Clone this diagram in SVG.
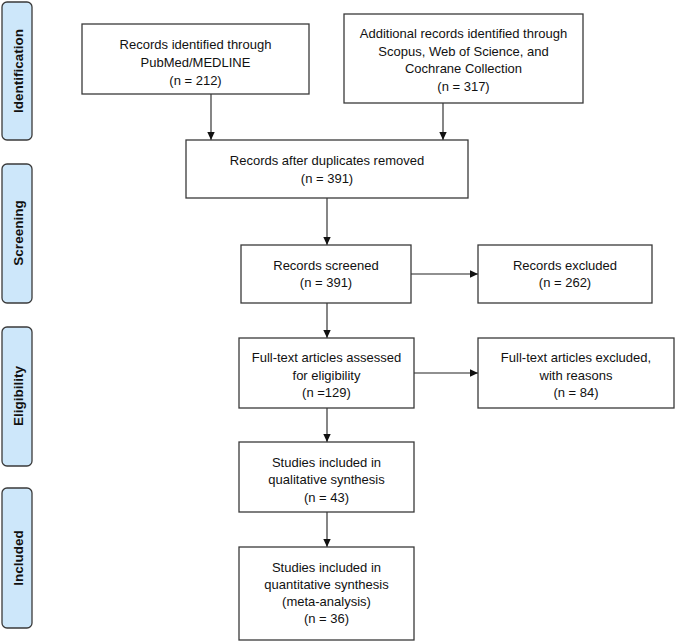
<svg xmlns="http://www.w3.org/2000/svg" width="676" height="643" viewBox="0 0 676 643">
<defs>
<marker id="ah" markerWidth="9" markerHeight="9" refX="8" refY="4.5" orient="auto" markerUnits="userSpaceOnUse">
<path d="M0,0.8 L8,4.5 L0,8.2 Z" fill="#111"/>
</marker>
<style>
.box{fill:#fff;stroke:#3a3a3a;stroke-width:1.3}
.side{fill:#cde7fa;stroke:#3a3a3a;stroke-width:1.3}
.t{font-family:"Liberation Sans",Arial,sans-serif;font-size:13px;fill:#111;text-anchor:middle}
.s{font-family:"Liberation Sans",Arial,sans-serif;font-size:13.5px;font-weight:bold;fill:#111;text-anchor:middle}
.c{stroke:#222;stroke-width:1.1;fill:none;marker-end:url(#ah)}
</style>
</defs>
<rect width="676" height="643" fill="#fff"/>
<g id="phase-identification"><rect class="side" x="2" y="2" width="30" height="138" rx="5"/><text class="s" transform="translate(22.5,71) rotate(-90)">Identification</text></g>
<g id="phase-screening"><rect class="side" x="2" y="164" width="30" height="139" rx="5"/><text class="s" transform="translate(22.5,233) rotate(-90)">Screening</text></g>
<g id="phase-eligibility"><rect class="side" x="2" y="327" width="30" height="139" rx="5"/><text class="s" transform="translate(22.5,396) rotate(-90)">Eligibility</text></g>
<g id="phase-included"><rect class="side" x="2" y="488" width="30" height="140" rx="5"/><text class="s" transform="translate(22.5,558) rotate(-90)">Included</text></g>

<g id="connectors">
<line class="c" x1="211" y1="94" x2="211" y2="140"/>
<line class="c" x1="443" y1="103" x2="443" y2="140"/>
<line class="c" x1="327" y1="198" x2="327" y2="245"/>
<line class="c" x1="411" y1="274" x2="478" y2="274"/>
<line class="c" x1="327" y1="303" x2="327" y2="338"/>
<line class="c" x1="414" y1="373" x2="478" y2="373"/>
<line class="c" x1="327" y1="408" x2="327" y2="442"/>
<line class="c" x1="327" y1="512" x2="327" y2="547"/>
</g>

<g id="pubmed"><rect class="box" x="82" y="24" width="227" height="70"/>
<text class="t" x="195.5" y="48.5">Records identified through</text>
<text class="t" x="195.5" y="67">PubMed/MEDLINE</text>
<text class="t" x="195.5" y="85">(n = 212)</text></g>

<g id="additional"><rect class="box" x="344" y="14" width="239" height="89"/>
<text class="t" x="463.5" y="37.5">Additional records identified through</text>
<text class="t" x="463.5" y="55.5">Scopus, Web of Science, and</text>
<text class="t" x="463.5" y="72.5">Cochrane Collection</text>
<text class="t" x="463.5" y="90.5">(n = 317)</text></g>

<g id="duplicates"><rect class="box" x="186" y="140" width="282" height="58"/>
<text class="t" x="327" y="164.5">Records after duplicates removed</text>
<text class="t" x="327" y="182.5">(n = 391)</text></g>

<g id="screened"><rect class="box" x="241" y="245" width="170" height="58"/>
<text class="t" x="326" y="269.5">Records screened</text>
<text class="t" x="326" y="286.5">(n = 391)</text></g>

<g id="excluded"><rect class="box" x="478" y="245" width="174" height="58"/>
<text class="t" x="565" y="269.5">Records excluded</text>
<text class="t" x="565" y="286.5">(n = 262)</text></g>

<g id="fulltext"><rect class="box" x="239" y="338" width="175" height="70"/>
<text class="t" x="326.5" y="361.5">Full-text articles assessed</text>
<text class="t" x="326.5" y="379.5">for eligibility</text>
<text class="t" x="326.5" y="396.5">(n =129)</text></g>

<g id="fulltext-excluded"><rect class="box" x="478" y="338" width="196" height="70"/>
<text class="t" x="576" y="361.5">Full-text articles excluded,</text>
<text class="t" x="576" y="379.5">with reasons</text>
<text class="t" x="576" y="396.5">(n = 84)</text></g>

<g id="qualitative"><rect class="box" x="239" y="442" width="175" height="70"/>
<text class="t" x="326.5" y="466.5">Studies included in</text>
<text class="t" x="326.5" y="483.5">qualitative synthesis</text>
<text class="t" x="326.5" y="501.5">(n = 43)</text></g>

<g id="quantitative"><rect class="box" x="239" y="547" width="175" height="93"/>
<text class="t" x="326.5" y="571.5">Studies included in</text>
<text class="t" x="326.5" y="588.5">quantitative synthesis</text>
<text class="t" x="326.5" y="605.5">(meta-analysis)</text>
<text class="t" x="326.5" y="622.5">(n = 36)</text></g>
</svg>
